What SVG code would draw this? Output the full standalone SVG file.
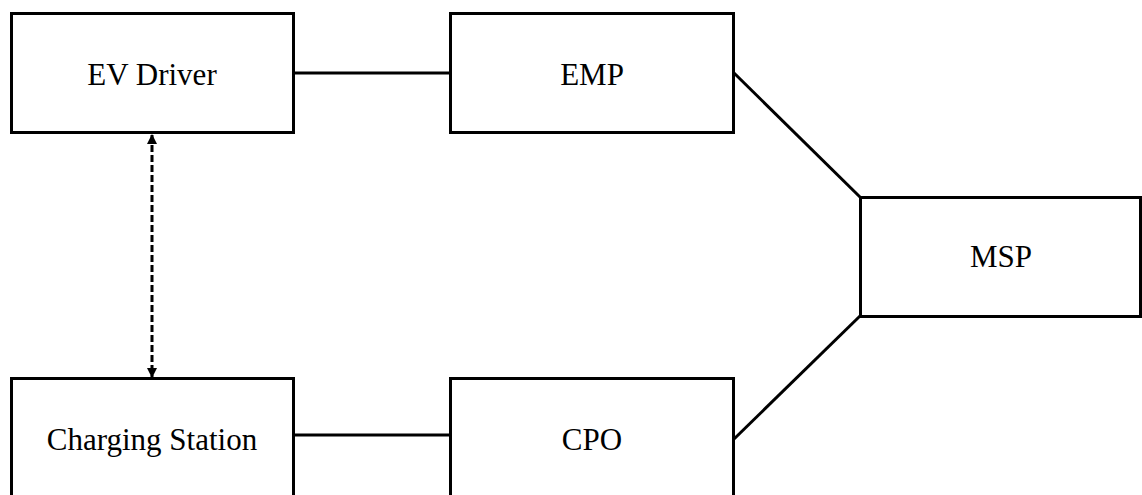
<svg xmlns="http://www.w3.org/2000/svg" width="1142" height="495" viewBox="0 0 1142 495">
<style>
.box{fill:#fff;stroke:#000;stroke-width:3}
.lbl{font-family:"Liberation Serif","Times New Roman",serif;font-size:31px;fill:#000;text-anchor:middle}
.ln{fill:none;stroke:#000;stroke-width:3}
.dash{fill:none;stroke:#000;stroke-width:3;stroke-dasharray:7 3}
</style>
<defs>
<marker id="ah" viewBox="0 0 10 10" refX="9" refY="5" markerWidth="10" markerHeight="10" orient="auto-start-reverse" markerUnits="userSpaceOnUse">
<path d="M0,0 L10,5 L0,10 z" fill="#000"/>
</marker>
</defs>
<rect width="1142" height="495" fill="#fff"/>
<g id="connectors">
<line class="ln" x1="294" y1="73" x2="450" y2="73"/>
<line class="ln" x1="294" y1="435" x2="450" y2="435"/>
<line class="ln" x1="733" y1="72" x2="860" y2="197"/>
<line class="ln" x1="733" y1="440" x2="860" y2="316"/>
<line class="dash" x1="152" y1="135" x2="152" y2="377" marker-start="url(#ah)" marker-end="url(#ah)"/>
</g>
<g id="ev-driver">
<rect class="box" x="11.5" y="13.5" width="282" height="119"/>
<text class="lbl" x="152" y="85">EV Driver</text>
</g>
<g id="emp">
<rect class="box" x="450.5" y="13.5" width="283" height="119"/>
<text class="lbl" x="592" y="85">EMP</text>
</g>
<g id="msp">
<rect class="box" x="860.5" y="197.5" width="280" height="119"/>
<text class="lbl" x="1001" y="267">MSP</text>
</g>
<g id="charging-station">
<rect class="box" x="11.5" y="378.5" width="282" height="119"/>
<text class="lbl" x="152" y="450">Charging Station</text>
</g>
<g id="cpo">
<rect class="box" x="450.5" y="378.5" width="283" height="119"/>
<text class="lbl" x="592" y="450">CPO</text>
</g>
</svg>
